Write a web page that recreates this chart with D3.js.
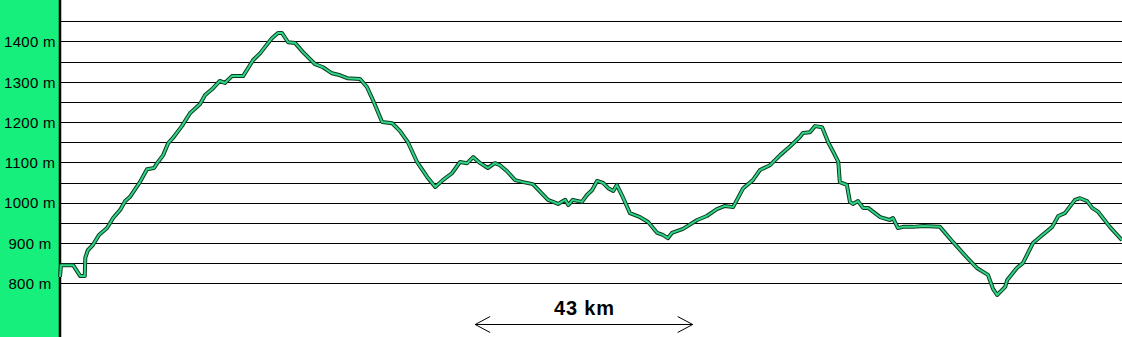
<!DOCTYPE html>
<html>
<head>
<meta charset="utf-8">
<script src="https://cdn.jsdelivr.net/npm/d3@7"></script>
<style>
  body { margin: 0; background: #fff; }
  svg { display: block; font-family: Arial, "Liberation Sans", sans-serif; }
</style>
</head>
<body>
<svg id="chart"></svg>
<script>
// distance along route (km) and elevation (m)
const distKm = [0, 0.2, 2.6, 4.0, 4.9, 5.0, 5.5, 6.5, 7.7, 9.3, 10.5, 11.9, 12.9, 13.8, 15.8, 17.2, 18.6, 19.2, 20.4, 21.4,
  22.3, 24.1, 25.7, 27.7, 28.7, 30.1, 31.6, 32.6, 34.0, 36.2, 38.2, 39.6, 41.9, 43.1, 43.9, 45.1, 46.5, 48.1, 50.4, 52.0,
  53.8, 55.4, 56.8, 59.3, 60.7, 61.9, 63.7, 65.7, 67.2, 68.8, 70.6, 72.6, 74.2, 75.7, 77.5, 79.1, 80.5, 81.7, 83.1, 84.6,
  86.0, 87.0, 88.4, 90.0, 91.6, 93.5, 96.5, 98.5, 99.9, 100.5, 101.4, 103.2, 104.2, 105.2, 106.2, 107.4, 108.4, 109.4, 110.1, 111.1,
  112.7, 114.7, 116.3, 118.1, 119.2, 120.2, 121.0, 123.2, 126.0, 127.9, 129.9, 131.5, 133.1, 135.1, 137.0, 138.4, 140.4, 142.4, 144.4, 146.3,
  146.9, 148.3, 149.3, 150.7, 151.9, 152.9, 153.9, 154.2, 155.6, 156.2, 156.8, 157.8, 158.8, 159.8, 162.2, 164.1, 164.7, 165.7, 166.7, 168.7,
  170.7, 174.0, 176.6, 179.4, 181.3, 183.5, 184.5, 185.3, 186.9, 187.3, 189.2, 190.4, 192.4, 193.8, 196.2, 197.4, 198.7, 200.7, 201.7, 203.1,
  204.1, 205.3, 207.6, 210];
const elevM = [816, 845, 845, 818, 818, 863, 882, 895, 920, 937, 962, 982, 1004, 1014, 1051, 1083, 1086, 1098, 1118, 1148,
  1160, 1190, 1222, 1245, 1267, 1282, 1302, 1297, 1314, 1314, 1354, 1371, 1408, 1421, 1421, 1398, 1396, 1373, 1344, 1336,
  1321, 1316, 1309, 1307, 1287, 1254, 1200, 1197, 1178, 1150, 1101, 1064, 1039, 1056, 1073, 1101, 1098, 1113, 1098, 1086,
  1098, 1093, 1078, 1056, 1051, 1046, 1007, 997, 1007, 994, 1007, 1002, 1019, 1031, 1054, 1049, 1036, 1029, 1044, 1019,
  974, 964, 952, 925, 920, 912, 925, 935, 957, 967, 984, 992, 989, 1036, 1056, 1081, 1093, 1118, 1140, 1163,
  1173, 1175, 1190, 1187, 1150, 1126, 1101, 1051, 1044, 1002, 997, 1004, 987, 987, 964, 957, 962, 937, 940, 940,
  942, 940, 902, 863, 838, 821, 786, 771, 791, 808, 838, 850, 900, 915, 940, 967, 974, 1007, 1011, 1004,
  987, 977, 940, 907];

const gridLevels = d3.range(800, 1451, 50);
const labelLevels = [800, 900, 1000, 1100, 1200, 1300, 1400];
const scaleStartKm = 82.1;
const scaleLenKm = 43;
const scaleLabel = "43 km";

const width = 1122, height = 337;
const panelW = 60;

const svg = d3.select("#chart")
  .attr("width", width)
  .attr("height", height);

const x = d3.scaleLinear().domain([0, 210]).range([panelW, width]);
const y = d3.scaleLinear().domain([800, 1450]).range([283.3, 21.3]);

// green label panel on the left
svg.append("rect")
  .attr("x", 0).attr("y", 0)
  .attr("width", panelW).attr("height", height)
  .attr("fill", "#17ef7c");

// horizontal grid every 50 m
svg.append("g")
  .selectAll("line")
  .data(gridLevels)
  .join("line")
  .attr("x1", panelW).attr("x2", width)
  .attr("y1", d => Math.round(y(d)) + 0.5)
  .attr("y2", d => Math.round(y(d)) + 0.5)
  .attr("stroke", "#000")
  .attr("stroke-width", 1)
  .attr("shape-rendering", "crispEdges");

// panel edge
svg.append("line")
  .attr("x1", panelW).attr("x2", panelW)
  .attr("y1", 0).attr("y2", height)
  .attr("stroke", "#000")
  .attr("stroke-width", 2.5);

// elevation labels
svg.append("g")
  .selectAll("text")
  .data(labelLevels)
  .join("text")
  .attr("x", 30)
  .attr("y", d => y(d) + 0.5)
  .attr("dy", "0.35em")
  .attr("text-anchor", "middle")
  .attr("font-size", 15)
  .attr("letter-spacing", 0.3)
  .attr("fill", "#000")
  .text(d => d + " m");

// profile line: dark outline with green core
const pts = distKm.map((d, i) => [d, elevM[i]]);
const line = d3.line()
  .x(d => x(d[0]))
  .y(d => y(d[1]));

svg.append("path")
  .datum(pts)
  .attr("d", line)
  .attr("fill", "none")
  .attr("stroke", "#0b3d22")
  .attr("stroke-width", 4)
  .attr("stroke-linejoin", "round");

svg.append("path")
  .datum(pts)
  .attr("d", line)
  .attr("fill", "none")
  .attr("stroke", "#30d486")
  .attr("stroke-width", 2)
  .attr("stroke-linejoin", "round");

// distance scale bar
const x0 = x(scaleStartKm), x1 = x(scaleStartKm + scaleLenKm);
const barY = 324.5;
const bar = svg.append("g")
  .attr("stroke", "#000")
  .attr("stroke-width", 1)
  .attr("fill", "none");
bar.append("line").attr("x1", x0).attr("x2", x1).attr("y1", barY).attr("y2", barY);
bar.append("polyline").attr("points", `${x0 + 15},${barY - 8} ${x0},${barY} ${x0 + 15},${barY + 8}`);
bar.append("polyline").attr("points", `${x1 - 15},${barY - 8} ${x1},${barY} ${x1 - 15},${barY + 8}`);

svg.append("text")
  .attr("x", (x0 + x1) / 2 + 0.5)
  .attr("y", 315)
  .attr("text-anchor", "middle")
  .attr("font-size", 20)
  .attr("font-weight", "bold")
  .attr("letter-spacing", 0.8)
  .attr("fill", "#000")
  .text(scaleLabel);
</script>
</body>
</html>
